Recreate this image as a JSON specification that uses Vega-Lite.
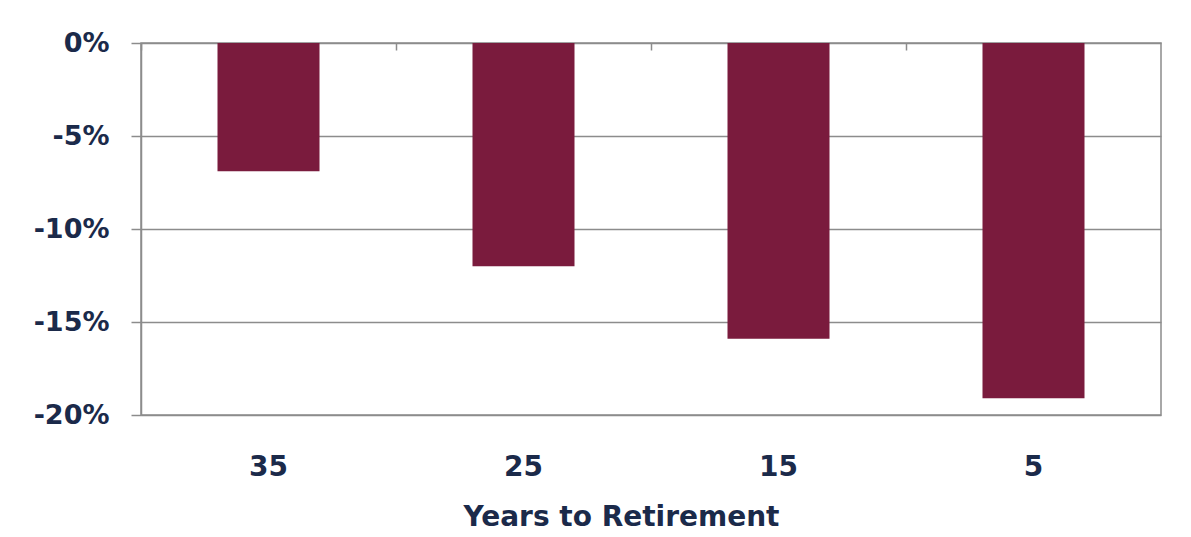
{
  "$schema": "https://vega.github.io/schema/vega-lite/v6.json",
  "width": 1020,
  "height": 372,
  "autosize": {"type": "none"},
  "padding": {"left": 141, "top": 43, "right": 30, "bottom": 122},
  "background": "white",
  "data": {
    "values": [
      {"years": "35", "change": -0.069},
      {"years": "25", "change": -0.12},
      {"years": "15", "change": -0.159},
      {"years": "5", "change": -0.191}
    ]
  },
  "layer": [
    {
      "mark": {"type": "bar", "color": "#7a1b3d"},
      "encoding": {
        "x": {
          "field": "years",
          "type": "nominal",
          "sort": null,
          "scale": {"paddingInner": 0.6, "paddingOuter": 0.3},
          "axis": {
            "orient": "bottom",
            "title": "Years to Retirement",
            "labelAngle": 0,
            "ticks": false,
            "tickSize": 0,
            "domain": false,
            "grid": false,
            "labelPadding": 38,
            "labelBaseline": "top",
            "labelFont": "DejaVu Sans",
            "labelFontWeight": "bold",
            "labelFontSize": 28,
            "labelColor": "#1b2a4a",
            "titleFont": "DejaVu Sans",
            "titleFontWeight": "bold",
            "titleFontSize": 28,
            "titleColor": "#1b2a4a",
            "titleX": 480,
            "titleY": 110,
            "titleBaseline": "alphabetic",
            "titleAlign": "center",
            "titleAnchor": null
          }
        },
        "y": {
          "field": "change",
          "type": "quantitative",
          "scale": {"domain": [-0.2, 0], "nice": false},
          "axis": {
            "title": null,
            "values": [0, -0.05, -0.1, -0.15, -0.2],
            "labelExpr": "(datum.value < 0 ? '-' : '') + abs(round(datum.value * 100)) + '%'",
            "tickSize": 10,
            "tickColor": "#8c8c8c",
            "tickWidth": 1.5,
            "domainColor": "#8c8c8c",
            "domainWidth": 1.5,
            "grid": true,
            "gridColor": "#8c8c8c",
            "gridWidth": 1.5,
            "labelPadding": 22,
            "labelFont": "DejaVu Sans",
            "labelFontWeight": "bold",
            "labelFontSize": 27,
            "labelColor": "#1b2a4a"
          }
        }
      }
    },
    {
      "mark": {"type": "bar", "opacity": 0},
      "encoding": {
        "x": {
          "field": "years",
          "type": "nominal",
          "sort": null,
          "axis": {
            "orient": "bottom",
            "offset": -372,
            "labels": false,
            "title": null,
            "domain": false,
            "grid": false,
            "bandPosition": -0.75,
            "tickSize": 7,
            "tickColor": "#8c8c8c",
            "tickWidth": 1.5
          }
        },
        "y": {"field": "change", "type": "quantitative"}
      }
    }
  ],
  "resolve": {"axis": {"x": "independent"}},
  "config": {"view": {"stroke": "#8c8c8c", "strokeWidth": 1.5}}
}
